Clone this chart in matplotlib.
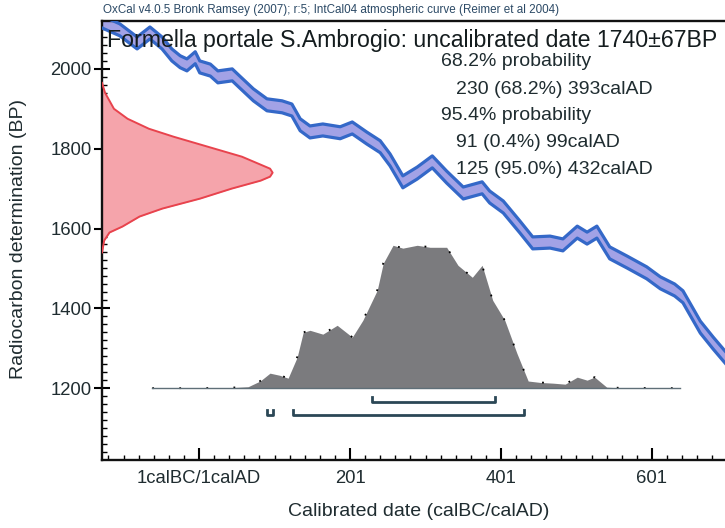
import numpy as np
import matplotlib.pyplot as plt
from matplotlib.ticker import FixedLocator

plt.rcParams['font.family'] = ['Liberation Sans', 'DejaVu Sans']

# IntCal04 atmospheric curve (calAD year, BP)
curve_year = [-128, -104, -81, -64, -48, -35, -24, -15, -4, 2,
              16, 26, 45, 55, 73, 91, 111, 124, 135, 148,
              165, 188, 204, 223, 241, 254, 271, 290, 310, 329,
              351, 376, 386, 404, 426, 443, 466, 483, 502, 515,
              528, 545, 568, 594, 612, 631, 642, 665, 682, 700]
curve_bp = [2118, 2098, 2065, 2090, 2065, 2035, 2018, 2010, 2028, 2005,
            1997, 1980, 1985, 1967, 1935, 1910, 1905, 1897, 1860, 1842,
            1847, 1840, 1852, 1827, 1805, 1772, 1717, 1739, 1767, 1729,
            1689, 1702, 1679, 1654, 1604, 1564, 1566, 1559, 1591, 1576,
            1591, 1539, 1516, 1489, 1464, 1446, 1429, 1353, 1313, 1273]
curve_sigma = 15

# radiocarbon determination 1740±67 BP (relative probability)
c14_bp = [1540, 1570, 1590, 1605, 1630, 1650, 1675, 1700, 1720, 1730, 1740,
          1750, 1760, 1780, 1805, 1830, 1850, 1875, 1900, 1940, 1965]
c14_prob = [0, 0.013, 0.044, 0.12, 0.22, 0.354, 0.575, 0.76, 0.93, 0.985, 1.0,
            0.985, 0.93, 0.82, 0.62, 0.42, 0.275, 0.15, 0.07, 0.018, 0]

# calibrated date distribution (relative probability)
cal_year = [-61, 2, 42, 66, 82, 95, 108, 119, 131, 139,
            148, 165, 184, 204, 218, 237, 245, 258, 271, 290,
            307, 329, 344, 363, 376, 390, 406, 422, 437, 453,
            470, 486, 502, 515, 525, 541, 559, 638]
cal_prob = [0, 0, 0.003, 0.01, 0.05, 0.105, 0.09, 0.07, 0.217, 0.39,
            0.405, 0.378, 0.44, 0.357, 0.475, 0.685, 0.874, 1.0, 0.98, 1.0,
            0.986, 0.986, 0.86, 0.776, 0.86, 0.615, 0.475, 0.245, 0.05, 0.04,
            0.035, 0.028, 0.077, 0.056, 0.077, 0.007, 0.002, 0]

range68 = [(230, 393)]
range95 = [(91, 99), (125, 432)]

xticks = [1, 201, 401, 601]
xticklabels = ['1calBC/1calAD', '201', '401', '601']
yticks = [1200, 1400, 1600, 1800, 2000]

title = 'Formella portale S.Ambrogio: uncalibrated date 1740±67BP'
header = 'OxCal v4.0.5 Bronk Ramsey (2007); r:5; IntCal04 atmospheric curve (Reimer et al 2004)'
prob_lines = ['68.2% probability', '230 (68.2%) 393calAD',
              '95.4% probability', '91 (0.4%) 99calAD', '125 (95.0%) 432calAD']

# ---------------- figure ----------------
W, H = 725, 528
fig = plt.figure(figsize=(W / 100, H / 100), dpi=100)
ax = fig.add_axes([102 / W, 68 / H, 1 - 102 / W, 439 / H])
xmin, xmax = -127.5, 697.7
ax.set_xlim(xmin, xmax)
ax.set_ylim(1020, 2120)

txt = '#1f2c30'

# calibration curve band
cy = np.array(curve_year)
cb = np.array(curve_bp)
ax.fill_between(cy, cb - curve_sigma, cb + curve_sigma, color='#a2a2e6', lw=0, zorder=2)
ax.plot(cy, cb + curve_sigma, color='#3468c8', lw=2.3, zorder=3)
ax.plot(cy, cb - curve_sigma, color='#3468c8', lw=2.3, zorder=3)

# radiocarbon determination on the y axis
c14_w = 226 * np.array(c14_prob)
ax.fill_betweenx(c14_bp, xmin, xmin + c14_w, color='#f5a4ab', lw=0, zorder=2)
ax.plot(xmin + c14_w, c14_bp, color='#e8434d', lw=1.4, zorder=3)

# calibrated distribution
cal_h = 358 * np.array(cal_prob)
ax.fill_between(cal_year, 1200, 1200 + cal_h, color='#7b7b7e', lw=0, zorder=2)
ax.plot(cal_year, 1200 + cal_h, color='black', lw=1.3, ls=(0, (1, 14)), zorder=3)
ax.plot([cal_year[0], cal_year[-1]], [1200, 1200], color='#5f6f78', lw=1, zorder=3)

# ranges
for (a, b) in range68:
    ax.plot([a, a, b, b], [1177, 1165, 1165, 1177], color='#2b4756', lw=2, zorder=3)
for (a, b) in range95:
    ax.plot([a, a, b, b], [1145, 1133, 1133, 1145], color='#2b4756', lw=2, zorder=3)

# axes styling
for s in ['left', 'bottom', 'top']:
    ax.spines[s].set_linewidth(1.7)
    ax.spines[s].set_color('#111111')
ax.spines['right'].set_visible(False)

ax.set_xticks(xticks)
ax.set_xticklabels(xticklabels)
ax.xaxis.set_minor_locator(FixedLocator(np.arange(-119, 700, 20)))
ax.set_yticks(yticks)
ax.yaxis.set_minor_locator(FixedLocator(np.arange(1040, 2120, 20)))
ax.tick_params(axis='x', which='major', direction='in', length=8.5, width=1.5,
               pad=7, labelsize=13.3, labelcolor=txt)
ax.tick_params(axis='x', which='minor', direction='in', length=3.6, width=1)
ax.tick_params(axis='y', which='major', direction='inout', length=11, width=1.5,
               pad=2, labelsize=13.3, labelcolor=txt)
ax.tick_params(axis='y', which='minor', direction='in', length=3.6, width=1)

fig.text(419 / W, 1 - 512 / H, 'Calibrated date (calBC/calAD)', fontsize=14,
         color=txt, ha='center', va='center')
fig.text(19 / W, 1 - 239 / H, 'Radiocarbon determination (BP)', fontsize=14,
         color=txt, ha='center', va='center', rotation=90)

fig.text(103 / W, 1 - 10 / H, header, fontsize=8.4, color='#2c4a66',
         ha='left', va='center')
fig.text(107 / W, 1 - 40 / H, title, fontsize=16.7, color='#141c1e',
         ha='left', va='center', zorder=5)

prob_x = [441, 456, 441, 456, 456]
prob_y = [62, 89, 116, 143, 170]
for s, x, y in zip(prob_lines, prob_x, prob_y):
    fig.text(x / W, 1 - y / H, s, fontsize=14, color=txt, ha='left', va='center')

fig.savefig('out.png', dpi=100)
